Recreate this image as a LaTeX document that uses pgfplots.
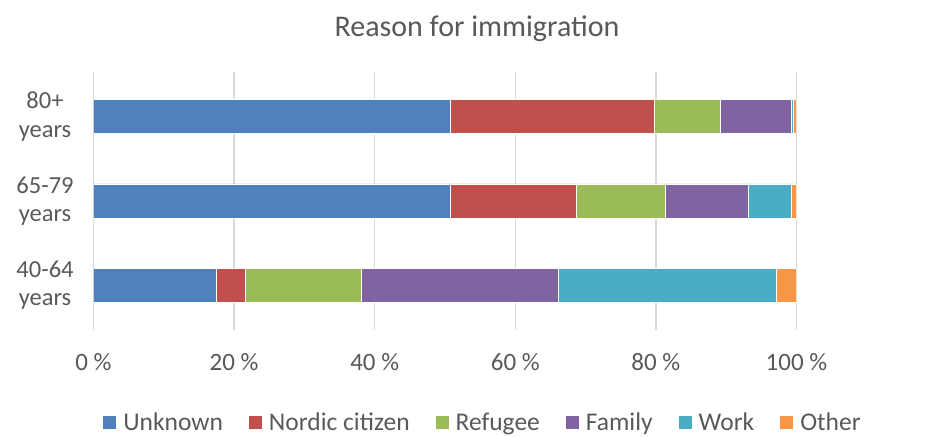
\documentclass[border=0pt]{standalone}
\usepackage{fontspec}
\setmainfont{Carlito}
\usepackage{pgfplots}
\pgfplotsset{compat=1.18}
\definecolor{cUnknown}{HTML}{4F81BD}
\definecolor{cNordic}{HTML}{C0504D}
\definecolor{cRefugee}{HTML}{9BBB59}
\definecolor{cFamily}{HTML}{8064A2}
\definecolor{cWork}{HTML}{4BACC6}
\definecolor{cOther}{HTML}{F79646}
\definecolor{txt}{HTML}{595959}
\definecolor{gridc}{HTML}{D9D9D9}
\begin{document}
\begin{tikzpicture}
\path[use as bounding box] (0,0) rectangle (933pt,436pt);
\node[text=txt, font=\fontsize{30}{35}\selectfont] at (477pt,407pt) {Reason for immigration};
\begin{axis}[
  at={(93.5pt,106pt)}, anchor=south west,
  scale only axis, width=703pt, height=258pt,
  xbar stacked, bar width=34pt,
  xmin=0, xmax=100, ymin=-0.53, ymax=2.53,
  xtick={0,20,40,60,80,100},
  xticklabel={\pgfmathprintnumber{\tick}~\%},
  /pgf/number format/assume math mode=true,
  ytick={0,1,2},
  yticklabels={40-64\\years, 65-79\\years, 80+\\years},
  xmajorgrids, grid style={draw=gridc, line width=1.3pt},
  axis line style={draw=none}, tick style={draw=none},
  xticklabel style={text=txt, font=\fontsize{25}{29}\selectfont, anchor=base, yshift=-40pt},
  yticklabel style={text=txt, font=\fontsize{24.5}{28.5}\selectfont, align=center, anchor=center, xshift=-48.5pt},
  every axis plot/.append style={draw=white, line width=0.6pt},
  legend columns=-1,
  legend style={at={(0.554,-0.357)}, anchor=center, draw=none, fill=none,
    font=\fontsize{25.5}{29}\selectfont, text=txt,
    /tikz/every even column/.append style={column sep=24pt},
    /tikz/every odd column/.append style={column sep=5pt}},
  legend image code/.code={\fill[#1, draw=none] (0pt,-6.5pt) rectangle (13pt,6.5pt);},
]
\addplot[fill=cUnknown] coordinates {(17.4,0) (50.75,1) (50.75,2)};
\addplot[fill=cNordic] coordinates {(4.15,0) (17.95,1) (29.05,2)};
\addplot[fill=cRefugee] coordinates {(16.5,0) (12.6,1) (9.3,2)};
\addplot[fill=cFamily] coordinates {(28.05,0) (11.8,1) (10.1,2)};
\addplot[fill=cWork] coordinates {(31.0,0) (6.1,1) (0.35,2)};
\addplot[fill=cOther] coordinates {(2.9,0) (0.8,1) (0.45,2)};
\legend{Unknown, Nordic citizen, Refugee, Family, Work, Other}
\node[anchor=west, text=txt, font=\fontsize{24.5}{28}\selectfont, inner sep=0pt, xshift=18.5pt] at (axis cs:100,2) {100+ years};
\node[anchor=west, text=txt, font=\fontsize{24.5}{28}\selectfont, inner sep=0pt, xshift=18.5pt] at (axis cs:100,1) {85-99 years};
\node[anchor=west, text=txt, font=\fontsize{24.5}{28}\selectfont, inner sep=0pt, xshift=18.5pt] at (axis cs:100,0) {60-84 years};
\node[anchor=west, text=txt, font=\bfseries\fontsize{23.5}{27}\selectfont, inner sep=0pt, xshift=18.5pt] at (rel axis cs:1,1) {Age in 2040};
\end{axis}
\end{tikzpicture}
\end{document}
